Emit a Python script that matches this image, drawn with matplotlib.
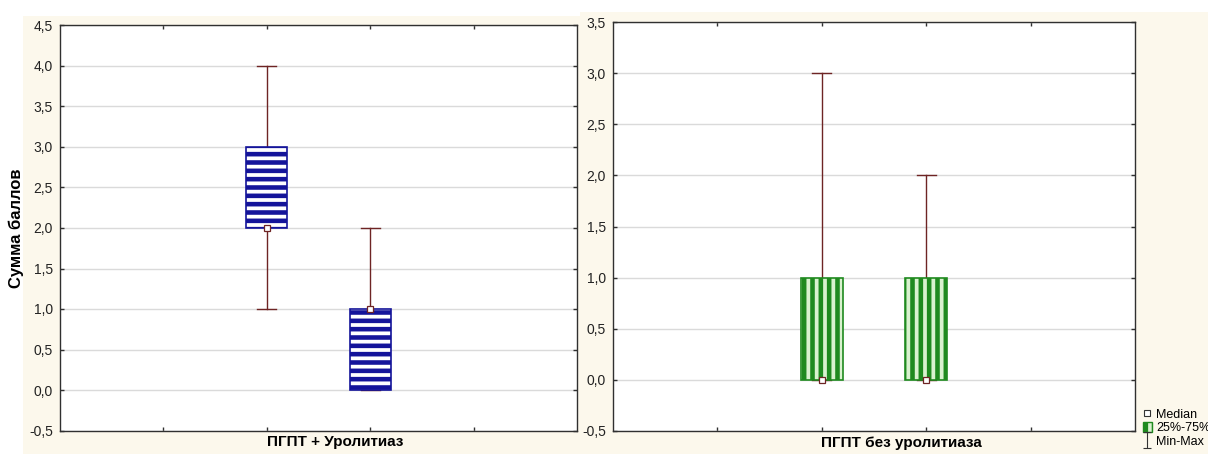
import matplotlib
matplotlib.use('Agg')
import matplotlib.pyplot as plt
from matplotlib.patches import Patch, Rectangle
from matplotlib.lines import Line2D
from matplotlib.path import Path
from matplotlib.ticker import FuncFormatter

plt.rcParams['font.family'] = ['Liberation Sans', 'DejaVu Sans']
plt.rcParams['hatch.linewidth'] = 3.3

# score stats per group: min, q25, median, q75, max
uro_min = [1, 0]
uro_q1 = [2, 0]
uro_med = [2, 1]
uro_q3 = [3, 1]
uro_max = [4, 2]

nouro_min = [0, 0]
nouro_q1 = [0, 0]
nouro_med = [0, 0]
nouro_q3 = [1, 1]
nouro_max = [3, 2]

positions = [2, 3]
left_ticks = [-0.5, 0, 0.5, 1, 1.5, 2, 2.5, 3, 3.5, 4, 4.5]
right_ticks = [-0.5, 0, 0.5, 1, 1.5, 2, 2.5, 3, 3.5]

cream = '#fcf8ec'
whisk = '#6e2424'
navy = '#14149a'
green = '#1f8a1f'
light_green = '#d9f2cf'

fig = plt.figure(figsize=(12.08, 4.54), dpi=100, facecolor='white')
fig.patches.append(Rectangle((23 / 1208, 0), 557 / 1208, 438 / 454, transform=fig.transFigure,
                             facecolor=cream, edgecolor='none', zorder=-10))
fig.patches.append(Rectangle((580 / 1208, 0), 628 / 1208, 442 / 454, transform=fig.transFigure,
                             facecolor=cream, edgecolor='none', zorder=-10))

ax1 = fig.add_axes([60 / 1208, 1 - 430.5 / 454, 517 / 1208, 405 / 454])
ax2 = fig.add_axes([613 / 1208, 1 - 431 / 454, 522 / 1208, 409 / 454])


def comma(v, pos):
    return ('%.1f' % v).replace('.', ',')


def draw_group(ax, mins, q1s, meds, q3s, maxs, edge, face, hatch, ticks):
    stats = []
    for lo, a, m, b, hi in zip(mins, q1s, meds, q3s, maxs):
        stats.append({'whislo': lo, 'q1': a, 'med': m, 'q3': b, 'whishi': hi, 'fliers': []})
    ax.bxp(stats, positions=positions, widths=0.4, capwidths=0.18, patch_artist=True,
           boxprops=dict(facecolor=face, edgecolor=edge, hatch=hatch, linewidth=1.2, zorder=4),
           whiskerprops=dict(color=whisk, linewidth=1, zorder=2),
           capprops=dict(color=whisk, linewidth=1, zorder=2),
           medianprops=dict(linewidth=0),
           showfliers=False, manage_ticks=False)
    ax.plot(positions, meds, linestyle='none', marker='s', markersize=4,
            markerfacecolor='white', markeredgecolor=whisk, markeredgewidth=0.9, zorder=5)
    ax.set_xlim(0, 5)
    ax.set_ylim(ticks[0], ticks[-1])
    ax.set_yticks(ticks)
    ax.yaxis.set_major_formatter(FuncFormatter(comma))
    ax.set_xticks([1, 2, 3, 4])
    ax.set_xticklabels([])
    ax.grid(axis='y', color='#dadada', linewidth=1, zorder=0)
    ax.set_axisbelow(True)
    ax.tick_params(direction='in', length=3, width=1, top=True, right=True,
                   labelsize=10, pad=5, color='#303030', labelcolor='#222222')
    for s in ax.spines.values():
        s.set_color('#303030')
        s.set_linewidth(1)


draw_group(ax1, uro_min, uro_q1, uro_med, uro_q3, uro_max, navy, 'white', '--', left_ticks)
draw_group(ax2, nouro_min, nouro_q1, nouro_med, nouro_q3, nouro_max, green, light_green, '||', right_ticks)

fig.text(16 / 1208, 1 - 228 / 454, 'Сумма баллов', fontsize=12, fontweight='bold',
         rotation=90, ha='center', va='center')
fig.text(335 / 1208, 1 - 442 / 454, 'ПГПТ + Уролитиаз', fontsize=11, fontweight='bold',
         ha='center', va='center')
fig.text(901 / 1208, 1 - 443 / 454, 'ПГПТ без уролитиаза', fontsize=11, fontweight='bold',
         ha='center', va='center')

# whisker glyph for the legend
cap_path = Path([(-0.5, -1), (0.5, -1), (0, -1), (0, 1), (-0.5, 1), (0.5, 1)],
                [Path.MOVETO, Path.LINETO, Path.MOVETO, Path.LINETO, Path.MOVETO, Path.LINETO])
handles = [
    Line2D([], [], linestyle='none', marker='s', markersize=4, markerfacecolor='white',
           markeredgecolor='#333333', markeredgewidth=0.8),
    Patch(facecolor=light_green, edgecolor=green, hatch='||'),
    Line2D([], [], linestyle='none', marker=cap_path, markersize=11, markerfacecolor='none',
           markeredgecolor='#333333', markeredgewidth=0.8),
]
fig.legend(handles, ['Median', '25%-75%', 'Min-Max'], loc='lower left',
           bbox_to_anchor=(1134 / 1208, -0.005), frameon=False, fontsize=9,
           handlelength=0.7, handleheight=0.8, handletextpad=0.35, labelspacing=0.1,
           borderpad=0.2)

fig.savefig('out.png', dpi=100, facecolor=fig.get_facecolor())
